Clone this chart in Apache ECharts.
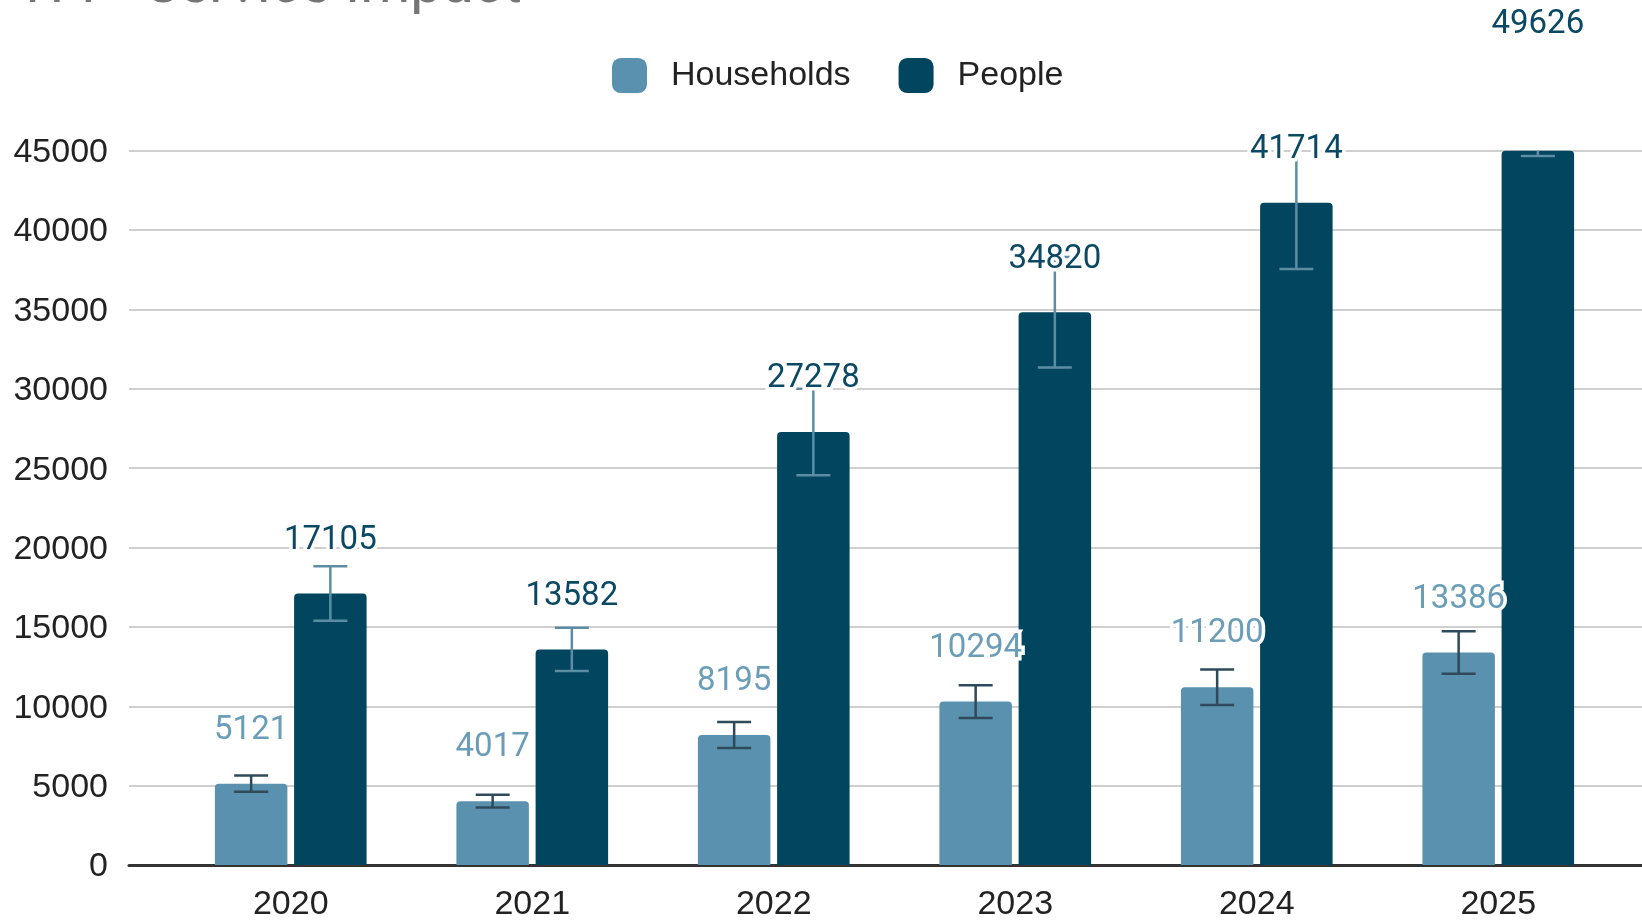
<!DOCTYPE html>
<html><head><meta charset="utf-8">
<script src="https://cdn.jsdelivr.net/npm/echarts@6/dist/echarts.min.js"></script>
<style>html,body{margin:0;padding:0;background:#fff}#c{width:1642px;height:920px}</style>
</head><body><div id="c"></div>
<script>
// ---- data ----
const categories = ['2020', '2021', '2022', '2023', '2024', '2025'];
const households = [5121, 4017, 8195, 10294, 11200, 13386];
const people = [17105, 13582, 27278, 34820, 41714, 49626];
const seriesNames = ['Households', 'People'];
const errorPercent = 10;           // percent error bars
const yMin = 0, yMax = 45000, yStep = 5000;
const titleText = 'TFP  Service Impact';

// ---- style ----
const C_HH = '#5a91ae', C_PP = '#02455f';
const C_HH_LABEL = '#6a9db8', C_PP_LABEL = '#0b4864';
const C_HH_ERR = '#2f4a5a', C_PP_ERR = '#5d8da4';
const BAR_W = 72.5, BAR_GAP = 6.7;
const HALF = (BAR_W + BAR_GAP) / 2;
const AXIS_FONT = 'Liberation Sans, Arial, sans-serif';
const GT = 150.7, GB = 55;

const chart = echarts.init(document.getElementById('c'));

function errData(vals) {
  return vals.map((v, i) => [i, v * (1 - errorPercent / 100), v * (1 + errorPercent / 100)]);
}
function labelData(vals) { return vals.map((v, i) => [i, v]); }

function errRender(sign, color) {
  return function (params, api) {
    const idx = api.value(0);
    const pl = api.coord([idx, api.value(1)]);
    const ph = api.coord([idx, api.value(2)]);
    const x = pl[0] + sign * HALF;
    const cap = 17;
    const st = { stroke: color, lineWidth: 2.5 };
    return { type: 'group', children: [
      { type: 'line', shape: { x1: x, y1: ph[1], x2: x, y2: pl[1] }, style: st },
      { type: 'line', shape: { x1: x - cap, y1: ph[1], x2: x + cap, y2: ph[1] }, style: st },
      { type: 'line', shape: { x1: x - cap, y1: pl[1], x2: x + cap, y2: pl[1] }, style: st }
    ]};
  };
}
function labelRender(sign, color) {
  return function (params, api) {
    const idx = api.value(0), v = api.value(1);
    const p = api.coord([idx, v]);
    return { type: 'text', x: p[0] + sign * HALF, y: p[1] - 53,
      style: { text: String(v), fill: color, fontFamily: 'Roboto', fontSize: 33,
        align: 'center', verticalAlign: 'middle', stroke: '#fff', lineWidth: 7 } };
  };
}

const option = {
  backgroundColor: '#fff',
  animation: false,
  title: { text: titleText, left: 10.5, top: -46,
    textStyle: { fontFamily: 'Roboto', fontSize: 57, color: '#757575', fontWeight: 'normal' } },
  legend: { data: seriesNames, left: 607, top: 53, icon: 'roundRect', itemWidth: 35, itemHeight: 35,
    itemGap: 48,
    textStyle: { fontFamily: AXIS_FONT, fontSize: 34, color: '#222', padding: [0, 0, 0, 19] } },
  grid: [
    { left: 129, right: 0, top: GT, bottom: GB, containLabel: false, outerBoundsMode: 'none' },
    { left: 170, right: 23, top: GT, bottom: GB, containLabel: false, outerBoundsMode: 'none' },
    { left: 129, right: 0, top: GT + 2, bottom: GB - 2, containLabel: false, outerBoundsMode: 'none' }
  ],
  xAxis: [
    { gridIndex: 0, type: 'category', data: categories, axisLabel: { show: false }, axisTick: { show: false },
      axisLine: { show: true, lineStyle: { color: '#333', width: 3 } }, splitLine: { show: false } },
    { gridIndex: 1, type: 'category', data: categories, axisTick: { show: false }, axisLine: { show: false },
      axisLabel: { fontFamily: AXIS_FONT, fontSize: 34, color: '#222', margin: 23 } },
    { gridIndex: 2, type: 'category', data: categories, show: false }
  ],
  yAxis: [
    { gridIndex: 0, type: 'value', min: yMin, max: yMax, interval: yStep,
      axisLine: { show: false }, axisTick: { show: false }, axisLabel: { show: false },
      splitLine: { lineStyle: { color: '#cfcfcf', width: 2 } } },
    { gridIndex: 1, type: 'value', min: yMin, max: yMax, interval: yStep, show: false,
      splitLine: { show: false } },
    { gridIndex: 2, type: 'value', min: yMin, max: yMax, interval: yStep,
      axisLine: { show: false }, axisTick: { show: false }, splitLine: { show: false },
      axisLabel: { fontFamily: AXIS_FONT, fontSize: 34, color: '#222', margin: 21, formatter: v => String(v) } }
  ],
  series: [
    { name: seriesNames[0], type: 'bar', xAxisIndex: 1, yAxisIndex: 1, data: households,
      barWidth: BAR_W, barGap: (BAR_GAP / BAR_W * 100) + '%', itemStyle: { color: C_HH, borderRadius: [4, 4, 0, 0] } },
    { name: seriesNames[1], type: 'bar', xAxisIndex: 1, yAxisIndex: 1, data: people,
      barWidth: BAR_W, itemStyle: { color: C_PP, borderRadius: [4, 4, 0, 0] } },
    { name: 'errHH', type: 'custom', xAxisIndex: 1, yAxisIndex: 1, clip: true, z: 5,
      encode: { x: 0, y: [1, 2] }, data: errData(households), renderItem: errRender(-1, C_HH_ERR) },
    { name: 'errPP', type: 'custom', xAxisIndex: 1, yAxisIndex: 1, clip: true, z: 5,
      encode: { x: 0, y: [1, 2] }, data: errData(people), renderItem: errRender(1, C_PP_ERR) },
    { name: 'lblHH', type: 'custom', xAxisIndex: 1, yAxisIndex: 1, clip: false, z: 10,
      encode: { x: 0, y: 1 }, data: labelData(households), renderItem: labelRender(-1, C_HH_LABEL) },
    { name: 'lblPP', type: 'custom', xAxisIndex: 1, yAxisIndex: 1, clip: false, z: 10,
      encode: { x: 0, y: 1 }, data: labelData(people), renderItem: labelRender(1, C_PP_LABEL) }
  ]
};
chart.setOption(option);
</script></body></html>
